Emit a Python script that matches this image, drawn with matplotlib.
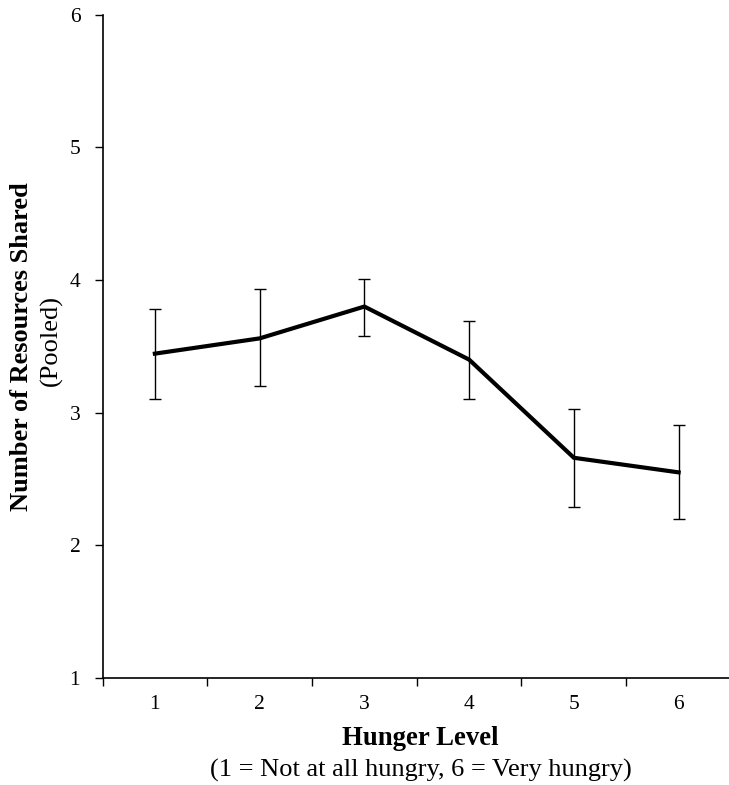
import matplotlib
matplotlib.use("Agg")
import matplotlib.pyplot as plt

hunger_levels = [1, 2, 3, 4, 5, 6]
means = [3.445, 3.56, 3.80, 3.40, 2.66, 2.55]
err_upper = [3.78, 3.93, 4.01, 3.69, 3.03, 2.91]
err_lower = [3.10, 3.20, 3.58, 3.10, 2.29, 2.20]
y_ticks = [1, 2, 3, 4, 5, 6]

plt.rcParams['font.family'] = ['Liberation Serif', 'DejaVu Serif']

W, H = 729, 785
fig = plt.figure(figsize=(W / 100, H / 100), dpi=100)
left, right, top, bottom = 102.5, 731, 14.7, 678
ax = fig.add_axes([left / W, 1 - bottom / H, (right - left) / W, (bottom - top) / H])

yerr = [[m - l for m, l in zip(means, err_lower)], [u - m for m, u in zip(means, err_upper)]]
ax.errorbar(hunger_levels, means, yerr=yerr, fmt='none', ecolor='black', elinewidth=1.0,
            capsize=4, capthick=1.0, zorder=2)
ax.plot(hunger_levels, means, color='black', lw=3.0, solid_joinstyle='miter', zorder=3)

ax.set_xlim(0.5, 6.5)
ax.set_ylim(1, 6)
ax.set_yticks(y_ticks)
ax.set_yticklabels([str(t) for t in y_ticks], fontsize=15.5)
ax.set_xticks([x + 0.5 for x in [0] + hunger_levels])
ax.set_xticklabels([])
ax.set_xticks(hunger_levels, minor=True)
ax.set_xticklabels([str(x) for x in hunger_levels], minor=True, fontsize=15.5)
ax.tick_params(axis='x', which='minor', length=0, pad=12)
ax.tick_params(axis='x', which='major', direction='out', length=6, width=1)
ax.tick_params(axis='y', direction='out', length=6, width=1, pad=10)

for s in ['top', 'right']:
    ax.spines[s].set_visible(False)
for s in ['left', 'bottom']:
    ax.spines[s].set_linewidth(1.2)

fig.text(420 / W, 1 - 745 / H, 'Hunger Level', fontsize=19.3, fontweight='bold',
         ha='center', va='baseline')
fig.text(421 / W, 1 - 777 / H, '(1 = Not at all hungry, 6 = Very hungry)', fontsize=19,
         ha='center', va='baseline')
fig.text(21.7 / W, 1 - 346.5 / H, 'Number of Resources Shared', fontsize=19, fontweight='bold',
         rotation=90, ha='center', va='center')
fig.text(51 / W, 1 - 340 / H, '(Pooled)', fontsize=19, rotation=90, ha='center', va='center')

fig.savefig('out.png', dpi=100)
